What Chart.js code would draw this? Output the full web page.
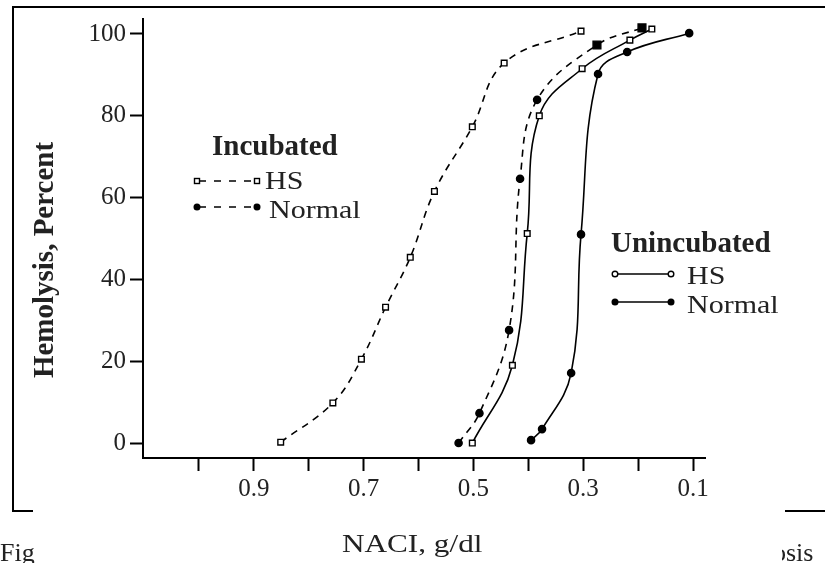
<!DOCTYPE html>
<html>
<head>
<meta charset="utf-8">
<script src="https://cdn.jsdelivr.net/npm/chart.js@4"></script>
<style>
  body { margin: 0; background: #fff; }
  #wrap { position: relative; width: 825px; height: 563px; overflow: hidden; background: #fff; }
  #grafico { position: absolute; left: 0; top: 0; }
  .txt { position: absolute; font-family: "Liberation Serif", serif; color: #222; line-height: 1; white-space: nowrap; transform-origin: left top; }
  .bold { font-weight: bold; font-size: 29px; }
  .leyenda { font-size: 25px; transform: scaleX(1.2); }
  svg { position: absolute; left: 0; top: 0; }
</style>
</head>
<body>
<div id="wrap">
  <canvas id="grafico" width="825" height="563"></canvas>
  <svg width="825" height="563">
    <!-- marco del recorte -->
    <line x1="13" y1="7" x2="825" y2="7" stroke="#000" stroke-width="2"/>
    <line x1="13" y1="6" x2="13" y2="511" stroke="#000" stroke-width="2"/>
    <line x1="12" y1="511" x2="33" y2="511" stroke="#000" stroke-width="2"/>
    <line x1="785" y1="511" x2="825" y2="511" stroke="#000" stroke-width="2"/>
    <!-- leyenda incubado -->
    <line x1="197" y1="181" x2="257" y2="181" stroke="#000" stroke-width="1.6" stroke-dasharray="7 8" stroke-dashoffset="-2"/>
    <rect x="194.5" y="178.5" width="5" height="5" fill="#fff" stroke="#000" stroke-width="1.4"/>
    <rect x="254.5" y="178.5" width="5" height="5" fill="#fff" stroke="#000" stroke-width="1.4"/>
    <line x1="197" y1="207" x2="257" y2="207" stroke="#000" stroke-width="1.6" stroke-dasharray="7 8" stroke-dashoffset="-2"/>
    <circle cx="197" cy="207" r="3.5" fill="#000"/>
    <circle cx="257" cy="207" r="3.5" fill="#000"/>
    <!-- leyenda sin incubar -->
    <line x1="615" y1="274" x2="671" y2="274" stroke="#000" stroke-width="1.6"/>
    <circle cx="615" cy="274" r="2.8" fill="#fff" stroke="#000" stroke-width="1.4"/>
    <circle cx="671" cy="274" r="2.8" fill="#fff" stroke="#000" stroke-width="1.4"/>
    <line x1="615" y1="302" x2="671" y2="302" stroke="#000" stroke-width="1.6"/>
    <circle cx="615" cy="302" r="3.5" fill="#000"/>
    <circle cx="671" cy="302" r="3.5" fill="#000"/>
  </svg>

  <div class="txt bold" style="left:212px; top:131px;">Incubated</div>
  <div class="txt leyenda" style="left:265px; top:168px;">HS</div>
  <div class="txt leyenda" style="left:269px; top:197px;">Normal</div>

  <div class="txt bold" style="left:611px; top:228px;">Unincubated</div>
  <div class="txt leyenda" style="left:687px; top:263px;">HS</div>
  <div class="txt leyenda" style="left:687px; top:292px;">Normal</div>

  <div class="txt bold" style="left:43px; top:260px; transform-origin:center; transform: translate(-50%,-50%) rotate(-90deg);">Hemolysis, Percent</div>
  <div class="txt" style="left:342px; top:531px; font-size:26px; transform: scaleX(1.2);">NACI, g/dl</div>
  <div class="txt" style="left:0px; top:540px; font-size:26px;">Fig</div>
  <div style="position:absolute; left:782px; top:540px; width:43px; height:23px; overflow:hidden;">
    <div class="txt" style="left:-9px; top:0; font-size:26px;">osis</div>
  </div>
</div>

<script>
// NaCl (g/dl) y % de hemolisis
const incHsX = [0.851, 0.756, 0.704, 0.660, 0.615, 0.571, 0.502, 0.444, 0.304];
const incHsY = [0.2, 9.8, 20.5, 33.2, 45.4, 61.5, 77.3, 92.9, 100.7];

const incNormalX = [0.527, 0.489, 0.435, 0.415, 0.384, 0.275, 0.193];
const incNormalY = [0, 7.3, 27.6, 64.6, 83.9, 97.3, 101.5];
const incNormalPuntos = ['circle', 'circle', 'circle', 'circle', 'circle', 'rect', 'rect'];

const unincHsX = [0.502, 0.429, 0.402, 0.380, 0.302, 0.215, 0.175];
const unincHsY = [0, 19.0, 51.2, 80.0, 91.5, 98.5, 101.2];

const unincNormalX = [0.395, 0.375, 0.322, 0.304, 0.273, 0.220, 0.107];
const unincNormalY = [0.7, 3.4, 17.1, 51.0, 90.2, 95.6, 100.2];

const xTicks = [1.0, 0.9, 0.8, 0.7, 0.6, 0.5, 0.4, 0.3, 0.2, 0.1];
const xEtiquetas = ['0.9', '0.7', '0.5', '0.3', '0.1'];
const yTicks = [0, 20, 40, 60, 80, 100];

const pares = (xs, ys) => xs.map((x, i) => ({ x: x, y: ys[i] }));

const serieBase = {
    borderColor: '#000',
    borderWidth: 1.6,
    tension: 0.4,
    pointBorderColor: '#000',
    pointBorderWidth: 1.4,
    fill: false
};

const ctx = document.getElementById('grafico').getContext('2d');
const grafico = new Chart(ctx, {
    type: 'line',
    data: {
        datasets: [
            { ...serieBase, label: 'Incubated HS', data: pares(incHsX, incHsY), borderDash: [7, 6],
              pointStyle: 'rect', pointRadius: 4, pointBackgroundColor: '#fff' },
            { ...serieBase, label: 'Incubated Normal', data: pares(incNormalX, incNormalY), borderDash: [7, 6],
              pointStyle: incNormalPuntos, pointRadius: incNormalPuntos.map(p => p === 'rect' ? 5.5 : 3.6), pointBackgroundColor: '#000' },
            { ...serieBase, label: 'Unincubated HS', data: pares(unincHsX, unincHsY),
              pointStyle: 'rect', pointRadius: 4, pointBackgroundColor: '#fff' },
            { ...serieBase, label: 'Unincubated Normal', data: pares(unincNormalX, unincNormalY),
              pointStyle: 'circle', pointRadius: 3.6, pointBackgroundColor: '#000' }
        ]
    },
    options: {
        responsive: false,
        animation: false,
        events: [],
        layout: { padding: { left: 0, top: 18, right: 120, bottom: 0 } },
        plugins: { legend: { display: false }, tooltip: { enabled: false } },
        scales: {
            x: {
                type: 'linear',
                reverse: true,
                min: 0.0782,
                max: 1.1018,
                afterFit: s => { s.height = 105; },
                afterBuildTicks: s => { s.ticks = xTicks.map(v => ({ value: v })); },
                border: { color: '#000', width: 2 },
                grid: { drawOnChartArea: false, drawTicks: true, tickLength: 13, tickWidth: 2, tickColor: '#000' },
                ticks: {
                    autoSkip: false,
                    maxRotation: 0,
                    padding: 3,
                    color: '#222',
                    font: { family: 'Liberation Serif', size: 25 },
                    callback: v => {
                        const t = v.toFixed(1);
                        return xEtiquetas.includes(t) ? t : '';
                    }
                }
            },
            y: {
                min: -3.66,
                max: 103.66,
                afterFit: s => { s.width = 143; },
                afterBuildTicks: s => { s.ticks = yTicks.map(v => ({ value: v })); },
                border: { color: '#000', width: 2 },
                grid: { drawOnChartArea: false, drawTicks: true, tickLength: 13, tickWidth: 2, tickColor: '#000' },
                ticks: {
                    padding: 4,
                    color: '#222',
                    font: { family: 'Liberation Serif', size: 25 },
                    callback: v => String(v)
                }
            }
        }
    }
});
</script>
</body>
</html>
